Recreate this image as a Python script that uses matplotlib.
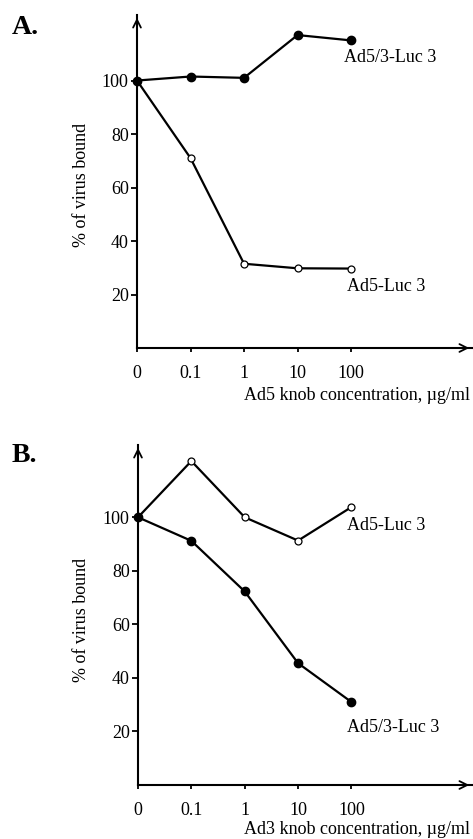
import matplotlib
matplotlib.use("Agg")
import matplotlib.pyplot as plt

plt.rcParams['font.family'] = ['Liberation Serif', 'DejaVu Serif']

conc_labels = ["0", "0.1", "1", "10", "100"]
yticks = [20, 40, 60, 80, 100]

# Panel A: Ad5 knob competition
a_ad53 = [100, 101.5, 101, 117, 115]
a_ad5 = [100, 71, 31.5, 29.8, 29.7]
# Panel B: Ad3 knob competition
b_ad5 = [100, 121, 100, 91.3, 103.8]
b_ad53 = [100, 91.2, 72.3, 45.5, 31]

W, H = 473, 839
fig = plt.figure(figsize=(W/100, H/100), dpi=100)

FS = 13
LW = 1.6


def make_panel(rect, ymax, filled, opened, filled_off, open_off, xlabel, letter, letter_y, ylab_y, xlab_y):
    ax = fig.add_axes(rect)
    x = list(range(len(conc_labels)))
    ax.plot(x, opened, color='black', lw=LW, marker='o', ms=5, mfc='white', mec='black', mew=0.9, clip_on=False, zorder=3)
    ax.plot(x, filled, color='black', lw=LW, marker='o', ms=6, mfc='black', mec='black', clip_on=False, zorder=4)
    ax.set_xlim(0, 6.26)
    ax.set_ylim(0, ymax)
    for s in ['top', 'right']:
        ax.spines[s].set_visible(False)
    for s in ['left', 'bottom']:
        ax.spines[s].set_linewidth(1.5)
    ax.set_xticks(x)
    ax.set_xticklabels(conc_labels, fontsize=FS)
    ax.set_yticks(yticks)
    ax.set_yticklabels([str(v) for v in yticks], fontsize=FS)
    ax.tick_params(axis='y', direction='out', length=4, width=1.3, pad=2)
    ax.tick_params(axis='x', direction='out', length=3, width=1.3, pad=9)
    # arrows
    ax.annotate('', xy=(1.0, 0), xytext=(0.97, 0), xycoords='axes fraction',
                arrowprops=dict(arrowstyle='->', lw=1.3, color='black', mutation_scale=14))
    ax.annotate('', xy=(0, 1.0), xytext=(0, 0.97), xycoords='axes fraction',
                arrowprops=dict(arrowstyle='->', lw=1.3, color='black', mutation_scale=14))
    ax.patch.set_visible(False)
    # series labels
    ax.annotate(filled_off[2], xy=(4, filled[-1]), xytext=filled_off[:2], textcoords='offset pixels',
                ha='left', va='center', fontsize=FS)
    ax.annotate(open_off[2], xy=(4, opened[-1]), xytext=open_off[:2], textcoords='offset pixels',
                ha='left', va='center', fontsize=FS)
    fig.text(470/W, 1 - xlab_y/H, xlabel, ha='right', va='center', fontsize=FS)
    fig.text(81/W, 1 - ylab_y/H, "% of virus bound", rotation=90, ha='center', va='center', fontsize=FS)
    fig.text(12/W, 1 - letter_y/H, letter, ha='left', va='center', fontsize=20, fontweight='bold')
    return ax


make_panel([137/W, 1 - 348/H, (472-137)/W, (348-15)/H], 124.5,
           a_ad53, a_ad5, (-7, -17, "Ad5/3-Luc 3"), (-4, -18, "Ad5-Luc 3"),
           "Ad5 knob concentration, µg/ml", "A.", 28, 185, 395)

make_panel([138/W, 1 - 785/H, (472-138)/W, (785-445)/H], 127.0,
           b_ad53, b_ad5, (-4, -25, "Ad5/3-Luc 3"), (-4, -18, "Ad5-Luc 3"),
           "Ad3 knob concentration, µg/ml", "B.", 455, 620, 830)

fig.savefig("out.png", dpi=100)
